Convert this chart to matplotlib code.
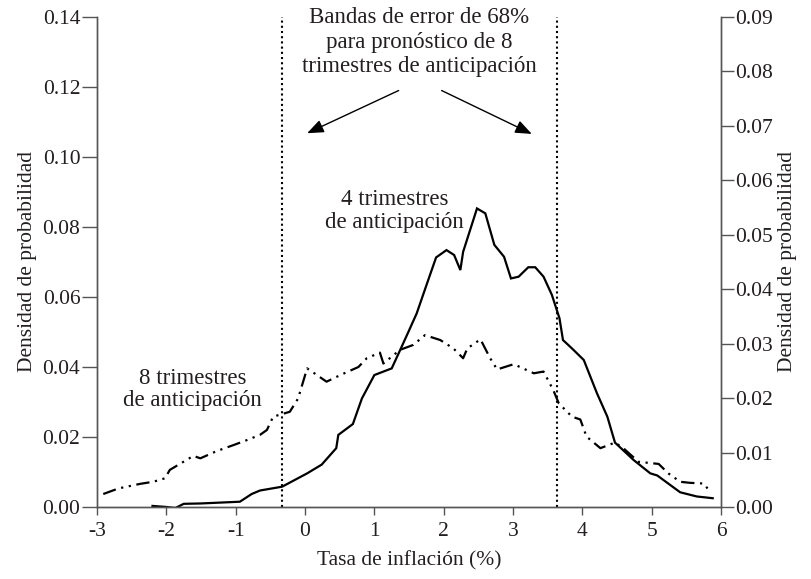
import matplotlib
matplotlib.use("Agg")
import matplotlib.pyplot as plt

# ── data ──────────────────────────────────────────────────────────────────────
x4 = [-2.20, -2.00, -1.87, -1.75, -1.51, -0.94, -0.77, -0.65, -0.33, 0.03, 0.24,
      0.45, 0.48, 0.69, 0.82, 1.00, 1.25, 1.35, 1.49, 1.61, 1.76, 1.89, 2.04,
      2.15, 2.24, 2.28, 2.48, 2.60, 2.73, 2.87, 2.97, 3.08, 3.22, 3.32, 3.44,
      3.56, 3.67, 3.72, 3.85, 4.02, 4.21, 4.36, 4.47, 4.74, 4.98, 5.08, 5.41,
      5.65, 5.88]
y4 = [0.0003, 0.0000, -0.0003, 0.0009, 0.0010, 0.0015, 0.0037, 0.0047, 0.0058,
      0.0096, 0.0121, 0.0168, 0.0206, 0.0237, 0.0310, 0.0377, 0.0396, 0.0439,
      0.0500, 0.0553, 0.0639, 0.0713, 0.0734, 0.0720, 0.0677, 0.0729, 0.0853,
      0.0839, 0.0749, 0.0715, 0.0653, 0.0658, 0.0685, 0.0685, 0.0658, 0.0606,
      0.0539, 0.0477, 0.0453, 0.0420, 0.0325, 0.0258, 0.0184, 0.0134, 0.0096,
      0.0090, 0.0042, 0.0030, 0.0025]

x8 = [-2.91, -2.69, -2.38, -2.19, -2.02, -1.95, -1.61, -1.51, -1.27, -1.03,
      -0.84, -0.65, -0.55, -0.46, -0.22, -0.10, 0.03, 0.12, 0.31, 0.51, 0.77,
      0.89, 1.08, 1.13, 1.37, 1.56, 1.73, 1.95, 2.14, 2.28, 2.34, 2.53, 2.67,
      2.77, 3.01, 3.30, 3.44, 3.58, 3.66, 3.85, 3.97, 4.06, 4.26, 4.47, 4.59,
      4.81, 5.10, 5.24, 5.41, 5.55, 5.75, 5.82]
y8 = [0.0037, 0.0053, 0.0066, 0.0072, 0.0082, 0.0106, 0.0146, 0.0139, 0.0160,
      0.0177, 0.0191, 0.0206, 0.0220, 0.0258, 0.0272, 0.0310, 0.0396, 0.0384,
      0.0358, 0.0377, 0.0400, 0.0425, 0.0441, 0.0410, 0.0449, 0.0463, 0.0491,
      0.0477, 0.0453, 0.0425, 0.0453, 0.0479, 0.0425, 0.0393, 0.0408, 0.0382,
      0.0387, 0.0334, 0.0296, 0.0258, 0.0250, 0.0201, 0.0168, 0.0184, 0.0168,
      0.0129, 0.0123, 0.0096, 0.0072, 0.0069, 0.0067, 0.0049]

band_lo, band_hi = -0.33, 3.63
x_ticks = list(range(-3, 7))
left_ticks = [0.00, 0.02, 0.04, 0.06, 0.08, 0.10, 0.12, 0.14]
right_ticks = [0.00, 0.01, 0.02, 0.03, 0.04, 0.05, 0.06, 0.07, 0.08, 0.09]

TEXT = "#231f20"
SPINE = "#555555"

plt.rcParams.update({
    "font.family": ["Liberation Serif", "DejaVu Serif"],
    "text.color": TEXT,
    "axes.labelcolor": TEXT,
    "xtick.color": SPINE,
    "ytick.color": SPINE,
    "xtick.labelcolor": TEXT,
    "ytick.labelcolor": TEXT,
})

fig = plt.figure(figsize=(8.12, 5.79), dpi=100)
ax = fig.add_axes([0.1195, 0.1244, 0.7685, 0.8462])
ax2 = ax.twinx()

ax.plot(x4, y4, color="black", lw=1.6, solid_joinstyle="miter")
ax.plot(x8, y8, color="black", lw=1.6, linestyle=(0, (6, 2.5, 1, 2.5, 1, 2.5)))
for xv in (band_lo, band_hi):
    ax.axvline(xv, color="black", lw=1.5, linestyle=(0, (1, 1.5)))

ax.set_xlim(-3, 6)
ax.set_ylim(0, 0.14)
ax2.set_ylim(0, 0.09)
ax.set_xticks(x_ticks)
ax.set_xticklabels([str(v) for v in x_ticks])
ax.set_yticks(left_ticks)
ax.set_yticklabels([f"{v:.2f}" for v in left_ticks])
ax2.set_yticks(right_ticks)
ax2.set_yticklabels([f"{v:.2f}" for v in right_ticks])

for a in (ax, ax2):
    a.spines["top"].set_visible(False)
    for s in ("left", "right", "bottom"):
        a.spines[s].set_color(SPINE)
        a.spines[s].set_linewidth(1.0)
ax.tick_params(axis="x", direction="out", length=6, width=1, labelsize=15.5, pad=5)
ax.tick_params(axis="y", direction="out", length=11, width=1, labelsize=15.5, pad=1)
ax2.tick_params(axis="y", direction="out", length=9, width=1, labelsize=15.5, pad=1)

ax.set_xlabel("Tasa de inflación (%)", fontsize=15.5, labelpad=7)
ax.set_ylabel("Densidad de probabilidad", fontsize=15.5, labelpad=4)
ax2.set_ylabel("Densidad de probabilidad", fontsize=15.5, labelpad=4)

ax.text((band_lo + band_hi) / 2, 0.1428,
        "Bandas de error de 68%\npara pronóstico de 8\ntrimestres de anticipación",
        ha="center", va="top", fontsize=16.5, linespacing=1.22)
ax.annotate("", xy=(0.03, 0.1068), xytext=(1.35, 0.119),
            arrowprops=dict(arrowstyle="-|>,head_length=1.0,head_width=0.4",
                            color="black", lw=1.0, shrinkA=0, shrinkB=0))
ax.annotate("", xy=(3.27, 0.1066), xytext=(1.97, 0.119),
            arrowprops=dict(arrowstyle="-|>,head_length=1.0,head_width=0.4",
                            color="black", lw=1.0, shrinkA=0, shrinkB=0))
ax.text(1.29, 0.0845, "4 trimestres\nde anticipación", ha="center", va="center",
        fontsize=16.5, linespacing=1.1)
ax.text(-1.62, 0.0336, "8 trimestres\nde anticipación", ha="center", va="center",
        fontsize=16.5, linespacing=1.1)

fig.savefig("out.png", dpi=100, facecolor="white")
